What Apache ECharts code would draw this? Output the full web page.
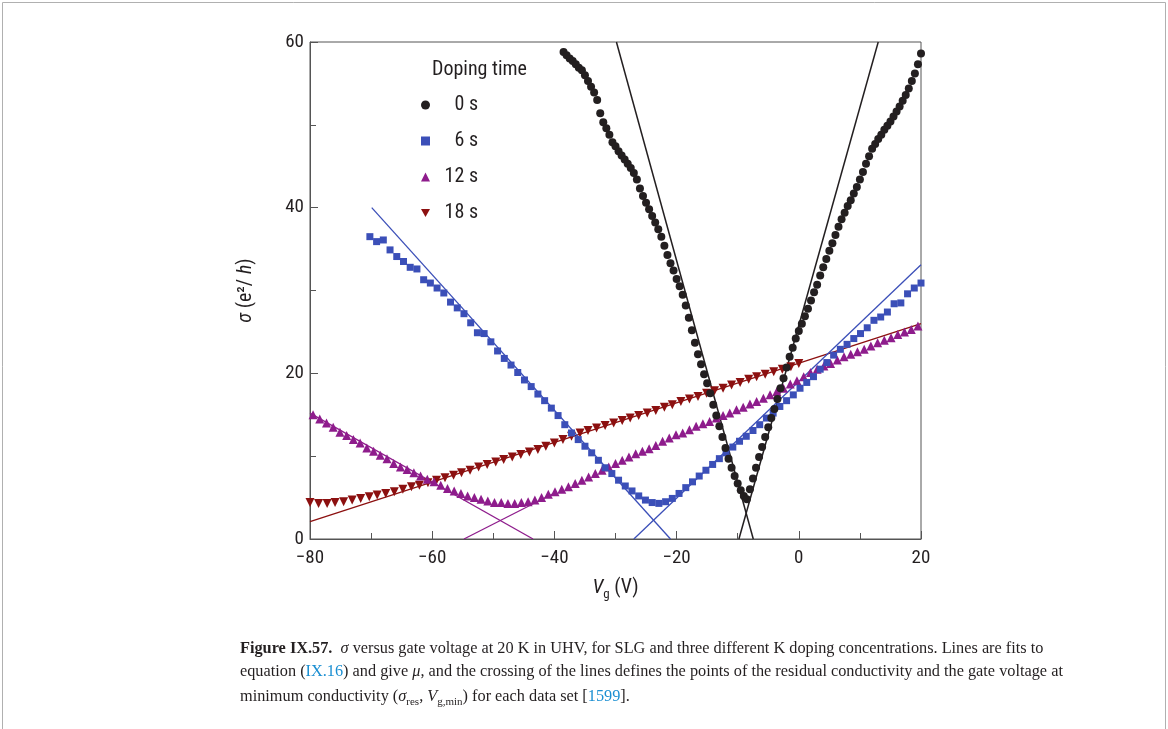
<!DOCTYPE html>
<html><head><meta charset="utf-8">
<script src="https://cdn.jsdelivr.net/npm/echarts@6/dist/echarts.min.js"></script>
<style>html,body{margin:0;padding:0;background:#fff}#c{width:1168px;height:729px}</style>
</head><body><div id="c"></div>
<script>
// ---------- data (Vg in V, sigma in e^2/h) ----------
const xTicks = [-80, -60, -40, -20, 0, 20];
const yTicks = [0, 20, 40, 60];

const vg0 = [-38.5,-38,-37.5,-37,-36.5,-36,-35.5,-35,-34.5,-34,-33.5,-33,-32.5,-32,-31.5,-31,-30.5,-30,-29.5,-29,-28.5,-28,-27.5,-27,-26.5,-26,-25.5,-25,-24.5,-24,-23.5,-23,-22.5,-22,-21.5,-21,-20.5,-20,-19.5,-19,-18.5,-18,-17.5,-17,-16.5,-16,-15.5,-15,-14.5,-14,-13.5,-13,-12.5,-12,-11.5,-11,-10.5,-10,-9.5,-9,-8.5,
  -8,-7.5,-7,-6.5,-6,-5.5,-5,-4.5,-4,-3.5,-3,-2.5,-2,-1.5,-1,-0.5,0,0.5,1,1.5,2,2.5,3,3.5,4,4.5,5,5.5,6,6.5,7,7.5,8,8.5,9,9.5,10,10.5,11,11.5,12,12.5,13,13.5,14,14.5,15,15.5,16,16.5,17,17.5,18,18.5,19,19.5,20];
const sig0 = [58.8,58.4,58.0,57.7,57.3,56.9,56.6,56.0,55.3,54.6,53.9,53.0,51.4,50.3,49.6,48.8,47.9,47.4,46.8,46.3,45.8,45.3,44.8,44.2,43.4,42.3,41.4,40.6,39.8,39.0,38.2,37.4,36.5,35.4,34.3,33.3,32.4,31.4,30.5,29.5,28.2,26.7,25.2,23.7,22.3,21.1,19.9,18.8,17.6,16.2,14.9,13.6,12.3,11.0,9.7,8.6,7.6,6.7,5.9,5.2,4.8,
  6.0,7.3,8.6,9.9,11.1,12.3,13.5,14.6,15.7,16.9,18.2,19.4,20.7,22.0,23.1,24.2,25.1,26.0,26.9,27.8,28.8,29.8,30.7,31.8,32.8,33.8,34.8,35.7,36.7,37.7,38.6,39.4,40.2,40.9,41.7,42.5,43.4,44.3,45.3,46.2,47.1,47.7,48.3,48.8,49.4,49.9,50.4,51.0,51.6,52.2,52.9,53.6,54.4,55.3,56.2,57.3,58.6];

const vg6 = [-70.2,-69.1,-68.0,-66.9,-65.8,-64.7,-63.6,-62.5,-61.4,-60.3,-59.2,-58.1,-57.0,-55.9,-54.8,-53.7,-52.6,-51.5,-50.4,-49.3,-48.2,-47.1,-46.0,-44.9,-43.8,-42.7,-41.6,-40.5,-39.4,-38.3,-37.2,-36.1,-35.0,-33.9,-32.8,-31.7,-30.6,-29.5,-28.4,-27.3,-26.2,-25.1,-24.0,-22.9,
  -21.8,-20.7,-19.6,-18.5,-17.4,-16.3,-15.2,-14.1,-13.0,-11.9,-10.8,-9.7,-8.6,-7.5,-6.4,-5.3,-4.2,-3.1,-2.0,-0.9,0.2,1.3,2.4,3.5,4.6,5.7,6.8,7.9,9.0,10.1,11.2,12.3,13.4,14.5,15.6,16.7,17.8,18.9,20.0];
const sig6 = [36.5,35.9,36.1,34.9,34.1,33.5,32.8,32.6,31.3,30.9,30.3,29.7,28.6,27.9,27.2,26.1,24.9,24.8,23.8,22.7,21.8,21.0,20.1,19.2,18.4,17.5,16.7,15.8,14.9,13.8,12.8,12.0,11.2,10.4,9.5,8.6,7.9,7.1,6.4,5.8,5.2,4.7,4.4,4.3,
  4.5,4.9,5.5,6.2,6.9,7.6,8.3,9.0,9.7,10.4,11.1,11.8,12.4,13.1,13.8,14.6,15.2,16.0,16.7,17.4,18.2,18.9,19.6,20.5,21.3,22.2,22.9,23.5,24.2,24.8,25.5,26.4,26.8,27.4,28.4,28.5,29.6,30.3,30.9];

const vg12 = [-79.5,-78.4,-77.3,-76.2,-75.1,-74.0,-72.9,-71.8,-70.7,-69.6,-68.5,-67.4,-66.3,-65.2,-64.1,-63.0,-61.9,-60.8,-59.7,-58.6,-57.5,-56.4,-55.3,-54.2,-53.1,-52.0,-50.9,-49.8,-48.7,-47.6,-46.5,-45.4,-44.3,-43.2,-42.1,-41.0,-39.9,-38.8,-37.7,-36.6,-35.5,-34.4,-33.3,-32.2,-31.1,-30.0,-28.9,-27.8,-26.7,-25.6,-24.5,-23.4,-22.3,-21.2,-20.1,-19.0,-17.9,-16.8,-15.7,-14.6,-13.5,-12.4,-11.3,-10.2,-9.1,-8.0,-6.9,-5.8,-4.7,-3.6,-2.5,-1.4,-0.3,0.8,1.9,3.0,4.1,5.2,6.3,7.4,8.5,9.6,10.7,11.8,12.9,14.0,15.1,16.2,17.3,18.4,19.5];
const sig12 = [15.0,14.5,14.0,13.5,12.9,12.5,12.0,11.6,11.0,10.6,10.1,9.7,9.1,8.7,8.4,8.0,7.6,7.2,6.9,6.5,6.1,5.8,5.5,5.2,5.0,4.8,4.6,4.4,4.4,4.3,4.3,4.4,4.5,4.7,5.0,5.4,5.7,6.0,6.3,6.7,7.1,7.5,7.9,8.3,8.7,9.1,9.5,9.9,10.3,10.6,10.9,11.3,11.8,12.2,12.6,12.8,13.2,13.6,13.9,14.2,14.6,14.9,15.2,15.6,15.9,16.3,16.6,17.0,17.4,17.8,18.2,18.7,19.1,19.6,20.1,20.5,20.9,21.2,21.6,22.0,22.3,22.6,22.9,23.3,23.7,24.0,24.3,24.7,25.0,25.3,25.7];

const vg18 = [-80.0,-78.6,-77.2,-75.9,-74.5,-73.1,-71.7,-70.3,-69.0,-67.6,-66.2,-64.8,-63.4,-62.1,-60.7,-59.3,-57.9,-56.5,-55.2,-53.8,-52.4,-51.0,-49.6,-48.3,-46.9,-45.5,-44.1,-42.7,-41.4,-40.0,-38.6,-37.2,-35.8,-34.5,-33.1,-31.7,-30.3,-28.9,-27.6,-26.2,-24.8,-23.4,-22.0,-20.7,-19.3,-17.9,-16.5,-15.1,-13.8,-12.4,-11.0,-9.6,-8.2,-6.9,-5.5,-4.1,-2.7,-1.3,0.0];
const sig18 = [4.4,4.3,4.3,4.4,4.5,4.7,4.9,5.1,5.3,5.5,5.7,6.0,6.3,6.5,6.8,7.1,7.4,7.7,8.0,8.3,8.7,9.0,9.3,9.6,9.9,10.2,10.5,10.8,11.2,11.6,12.0,12.4,12.8,13.1,13.4,13.7,14.0,14.3,14.6,14.9,15.2,15.5,15.9,16.2,16.6,16.9,17.2,17.6,17.9,18.2,18.6,18.9,19.3,19.6,19.9,20.2,20.5,20.8,21.2];

// fit lines: pairs of end points [Vg, sigma]
const fit0 = [[[-29.85, 60], [-7.45, 0]], [[-9.8, 0], [13.0, 60]]];
const fit6 = [[[-69.9, 40], [-21.0, 0]], [[-27.0, 0], [20, 33.1]]];
const fit12 = [[[-80, 15.2], [-43.5, 0]], [[-54.8, 0], [-40, 5.55]]];
const fit18 = [[[-80, 2.1], [20, 26.0]]];

const names = ['0 s', '6 s', '12 s', '18 s'];
// ---------------------------------------------------

const C0 = '#231f20', C6 = '#3b4fb8', C12 = '#8e1c8c', C18 = '#8c1010';
const FONT = '"Liberation Sans Narrow","Arial Narrow","Roboto Condensed",Roboto,"Liberation Sans",sans-serif';
const SERIF = '"Liberation Serif","DejaVu Serif",serif';
const zip = (a, b) => a.map((v, i) => [v, b[i]]);
const minus = v => String(v).replace('-', '\u2212');

function fitSeries(lines, color, w) {
  return lines.map(seg => ({
    type: 'line', data: seg, symbol: 'none', silent: true, z: 1,
    lineStyle: { color: color, width: w }, animation: false
  }));
}

const chart = echarts.init(document.getElementById('c'), null, { renderer: 'canvas' });
chart.setOption({
  animation: false,
  backgroundColor: '#fff',
  grid: { left: 310, top: 42, right: 247, bottom: 190, show: true, borderColor: '#555', borderWidth: 1 },
  xAxis: {
    type: 'value', min: -80, max: 20, interval: 20,
    axisLine: { show: true, onZero: false, lineStyle: { color: '#555', width: 1 } },
    axisTick: { inside: true, length: 8, lineStyle: { color: '#555' } },
    minorTick: { show: true, splitNumber: 2, length: 6, lineStyle: { color: '#555' } },
    splitLine: { show: false },
    axisLabel: { color: C0, fontSize: 19, fontFamily: FONT, margin: 10, formatter: minus },
    name: '{v|V}{s|g}{n| (V)}', nameLocation: 'middle', nameGap: 36,
    nameTextStyle: {
      fontFamily: FONT, color: C0, fontSize: 19,
      rich: {
        v: { fontStyle: 'italic', fontSize: 20, lineHeight: 26, fontFamily: FONT, color: C0 },
        s: { fontSize: 13, lineHeight: 12, verticalAlign: 'bottom', fontFamily: FONT, color: C0 },
        n: { fontSize: 20, lineHeight: 26, fontFamily: FONT, color: C0 }
      }
    }
  },
  yAxis: {
    type: 'value', min: 0, max: 60, interval: 20,
    axisLine: { show: true, onZero: false, lineStyle: { color: '#555', width: 1 } },
    axisTick: { inside: true, length: 8, lineStyle: { color: '#555' } },
    minorTick: { show: true, splitNumber: 2, length: 6, lineStyle: { color: '#555' } },
    splitLine: { show: false },
    axisLabel: { color: C0, fontSize: 19, fontFamily: FONT, margin: 6 },
    name: '{i|σ} (e\u00b2/ {i|h})', nameLocation: 'middle', nameGap: 54, nameRotate: 90,
    nameTextStyle: {
      fontFamily: FONT, color: C0, fontSize: 20,
      rich: { i: { fontStyle: 'italic', fontSize: 20, fontFamily: FONT, color: C0 } }
    }
  },
  legend: {
    data: [
      { name: names[0], icon: 'circle' },
      { name: names[1], icon: 'rect' },
      { name: names[2], icon: 'triangle' },
      { name: names[3], icon: 'path://M0,0 L10,0 L5,9 Z' }
    ],
    orient: 'vertical', left: 416, top: 90, itemGap: 16,
    itemWidth: 9, itemHeight: 9,
    formatter: n => '{t|' + n + '}',
    textStyle: { color: C0, fontSize: 20, fontFamily: FONT,
      rich: { t: { width: 43, align: 'right', fontSize: 20, fontFamily: FONT, color: C0 } } }
  },
  graphic: [
    { type: 'rect', shape: { x: 2.5, y: 2.5, width: 1163, height: 740 }, style: { fill: 'none', stroke: '#b0b0b0', lineWidth: 1 }, silent: true },
    { type: 'text', left: 432, top: 60, style: { text: 'Doping time', fontSize: 20, fontFamily: FONT, fill: C0 } },
    { type: 'text', left: 240, top: 641, style: {
        text: '{b|Figure IX.57.}  {i|σ} versus gate voltage at 20 K in UHV, for SLG and three different K doping concentrations. Lines are fits to',
        fontSize: 16.3, fontFamily: SERIF, fill: '#231f20',
        rich: { b: { fontWeight: 'bold', fontSize: 16.3, fontFamily: SERIF }, i: { fontStyle: 'italic', fontSize: 16.3, fontFamily: SERIF } } } },
    { type: 'text', left: 240, top: 664, style: {
        text: 'equation ({l|IX.16}) and give {i|μ}, and the crossing of the lines defines the points of the residual conductivity and the gate voltage at',
        fontSize: 16.3, fontFamily: SERIF, fill: '#231f20',
        rich: { l: { fill: '#1b8fd2', fontSize: 16.3, fontFamily: SERIF }, i: { fontStyle: 'italic', fontSize: 16.3, fontFamily: SERIF } } } },
    { type: 'text', left: 240, top: 686, style: {
        text: 'minimum conductivity ({i|σ}{s|res}, {i|V}{s|g,min}) for each data set [{l|1599}].',
        fontSize: 16.3, lineHeight: 22, fontFamily: SERIF, fill: '#231f20',
        rich: { l: { fill: '#1b8fd2', fontSize: 16.3, lineHeight: 22, fontFamily: SERIF },
                i: { fontStyle: 'italic', fontSize: 16.3, lineHeight: 22, fontFamily: SERIF },
                s: { fontSize: 11, lineHeight: 12, verticalAlign: 'bottom', fontFamily: SERIF } } } }
  ],
  series: [].concat(
    fitSeries(fit18, C18, 1.3),
    fitSeries(fit12, C12, 1.3),
    fitSeries(fit6, C6, 1.3),
    fitSeries(fit0, C0, 1.5),
    [
      { name: names[3], type: 'scatter', data: zip(vg18, sig18), symbol: 'triangle', symbolRotate: 180, symbolSize: 9, itemStyle: { color: C18, opacity: 1 }, z: 2 },
      { name: names[2], type: 'scatter', data: zip(vg12, sig12), symbol: 'triangle', symbolSize: 9, itemStyle: { color: C12, opacity: 1 }, z: 2 },
      { name: names[1], type: 'scatter', data: zip(vg6, sig6), symbol: 'rect', symbolSize: 7, itemStyle: { color: C6, opacity: 1 }, z: 2 },
      { name: names[0], type: 'scatter', data: zip(vg0, sig0), symbol: 'circle', symbolSize: 8, itemStyle: { color: C0, opacity: 1 }, z: 2 }
    ]
  )
});
</script>
</body></html>
